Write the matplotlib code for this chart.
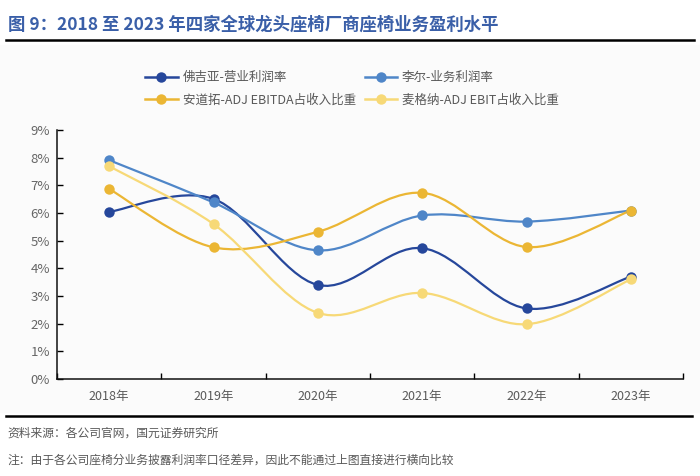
import matplotlib
matplotlib.use('Agg')
import matplotlib.pyplot as plt
from matplotlib.path import Path
from matplotlib.patches import PathPatch, Rectangle
from matplotlib.lines import Line2D
from matplotlib.ticker import FuncFormatter, MultipleLocator

plt.rcParams['font.family'] = ['Noto Sans CJK SC', 'DejaVu Sans']

years = ['2018年', '2019年', '2020年', '2021年', '2022年', '2023年']
faurecia = [6.04, 6.51, 3.40, 4.73, 2.55, 3.70]
lear = [7.91, 6.38, 4.65, 5.91, 5.69, 6.09]
adient = [6.87, 4.76, 5.32, 6.73, 4.77, 6.09]
magna = [7.69, 5.60, 2.39, 3.11, 1.98, 3.60]

names = ['佛吉亚-营业利润率', '李尔-业务利润率',
         '安道拓-ADJ EBITDA占收入比重', '麦格纳-ADJ EBIT占收入比重']
colors = ['#26479b', '#4f86c8', '#ebb634', '#f7d977']

TEXT = '#595959'


def smooth_path(xs, ys):
    # bezier through the points, like excel's smoothed line
    n = len(xs)
    verts = [(xs[0], ys[0])]
    codes = [Path.MOVETO]
    for i in range(n - 1):
        x0, y0 = xs[max(i - 1, 0)], ys[max(i - 1, 0)]
        x1, y1 = xs[i], ys[i]
        x2, y2 = xs[i + 1], ys[i + 1]
        x3, y3 = xs[min(i + 2, n - 1)], ys[min(i + 2, n - 1)]
        c1 = (x1 + (x2 - x0) / 6, y1 + (y2 - y0) / 6)
        c2 = (x2 - (x3 - x1) / 6, y2 - (y3 - y1) / 6)
        verts += [c1, c2, (x2, y2)]
        codes += [Path.CURVE4] * 3
    return Path(verts, codes)


fig = plt.figure(figsize=(7, 4.76), dpi=100)
fig.patches.append(Rectangle((0.0, 1 - 412 / 476), 1.0, (412 - 45) / 476,
                             transform=fig.transFigure, color='#fbfbfb', zorder=-5))

ax = fig.add_axes([57 / 700, 1 - 379 / 476, (683 - 57) / 700, (379 - 130) / 476])
ax.set_facecolor('none')
ax.set_zorder(2)

x = list(range(len(years)))
for vals, c in zip([faurecia, lear, adient, magna], colors):
    ax.add_patch(PathPatch(smooth_path(x, vals), facecolor='none', edgecolor=c,
                           lw=1.6, zorder=3))
    ax.plot(x, vals, 'o', color=c, markersize=7.5, zorder=4, markeredgewidth=0)

ax.set_xlim(-0.5, len(years) - 0.5)
ax.set_ylim(0, 9)
ax.yaxis.set_major_locator(MultipleLocator(1))
ax.yaxis.set_major_formatter(FuncFormatter(lambda v, p: f'{v:.0f}%'))
ax.set_xticks(x)
ax.set_xticklabels(years)
ax.set_xticks([i - 0.5 for i in range(len(years) + 1)], minor=True)
ax.tick_params(axis='x', which='major', length=0, pad=8, labelsize=9, labelcolor=TEXT)
ax.tick_params(axis='x', which='minor', length=4, direction='in', width=1)
ax.tick_params(axis='y', length=4, direction='in', width=1, labelsize=9.5,
               labelcolor='#666666', pad=5)
for s in ['top', 'right']:
    ax.spines[s].set_visible(False)
for s in ['left', 'bottom']:
    ax.spines[s].set_linewidth(1.1)
    ax.spines[s].set_color('#111111')

# legend, two columns; matplotlib fills column by column
handles = [Line2D([], [], color=c, lw=1.8, marker='o', markersize=7.5,
                  markeredgewidth=0) for c in colors]
order = [0, 2, 1, 3]
fig.legend([handles[i] for i in order], [names[i] for i in order],
           loc='center', bbox_to_anchor=(352 / 700, 1 - 89 / 476),
           ncol=2, frameon=False, fontsize=9, labelcolor=TEXT,
           handlelength=2.6, handletextpad=0.4, columnspacing=0.7,
           labelspacing=0.75)

fig.text(8 / 700, 1 - 25 / 476,
         '图 9：2018 至 2023 年四家全球龙头座椅厂商座椅业务盈利水平',
         fontsize=12.5, fontweight='bold', color='#3a5fa8', va='center')
fig.add_artist(Line2D([6 / 700, 694 / 700], [1 - 40 / 476] * 2, color='black', lw=1.8))
fig.add_artist(Line2D([6 / 700, 692 / 700], [1 - 416 / 476] * 2, color='black', lw=1.8))
fig.text(7 / 700, 1 - 433 / 476, '资料来源：各公司官网，国元证券研究所',
         fontsize=8.5, color=TEXT, va='center')
fig.text(7 / 700, 1 - 460 / 476,
         '注：由于各公司座椅分业务披露利润率口径差异，因此不能通过上图直接进行横向比较',
         fontsize=8.5, color=TEXT, va='center')

fig.savefig('out.png', dpi=100)
